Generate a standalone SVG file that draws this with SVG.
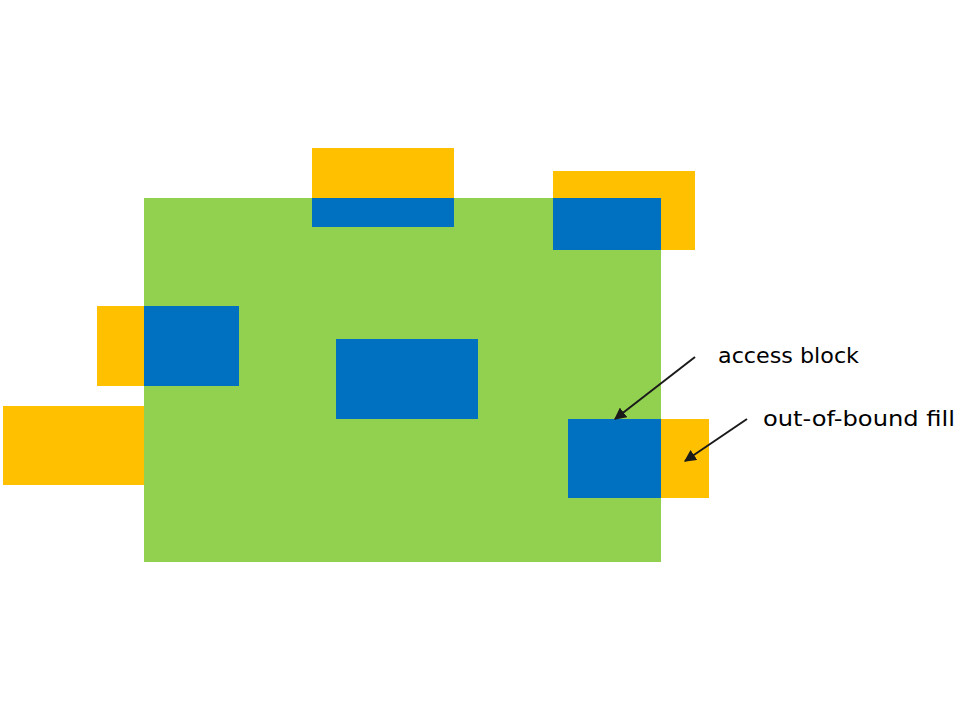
<svg xmlns="http://www.w3.org/2000/svg" width="978" height="720" viewBox="0 0 978 720">
  <style>
    .green { fill: #92D050; }
    .yellow { fill: #FFC000; }
    .blue { fill: #0070C0; }
    .conn { stroke: #1a1a1a; stroke-width: 2; fill: none; }
    .lbl { font-family: "DejaVu Sans", Verdana, sans-serif; font-size: 22px; fill: #000; }
  </style>
  <defs>
    <marker id="arrow" viewBox="0 0 10 10" refX="9" refY="5" markerWidth="6" markerHeight="6" orient="auto" markerUnits="strokeWidth">
      <path d="M0,0 L10,5 L0,10 z" fill="#1a1a1a"/>
    </marker>
  </defs>
  <rect width="978" height="720" fill="#ffffff"/>
  <g id="domain">
    <rect class="green" x="144" y="198" width="517" height="364"/>
  </g>
  <g id="block-top">
    <rect class="yellow" x="312" y="148" width="142" height="50"/>
    <rect class="blue" x="312" y="198" width="142" height="29"/>
  </g>
  <g id="block-top-right">
    <rect class="yellow" x="553" y="171" width="142" height="79"/>
    <rect class="blue" x="553" y="198" width="108" height="52"/>
  </g>
  <g id="block-left">
    <rect class="yellow" x="97" y="306" width="47" height="80"/>
    <rect class="blue" x="144" y="306" width="95" height="80"/>
  </g>
  <g id="block-center">
    <rect class="blue" x="336" y="339" width="142" height="80"/>
  </g>
  <g id="block-bottom-left">
    <rect class="yellow" x="3" y="406" width="141" height="79"/>
  </g>
  <g id="block-right">
    <rect class="blue" x="568" y="419" width="93" height="79"/>
    <rect class="yellow" x="661" y="419" width="48" height="79"/>
  </g>
  <g id="connectors">
    <line class="conn" x1="695" y1="357" x2="615" y2="419" marker-end="url(#arrow)"/>
    <line class="conn" x1="747" y1="419" x2="685" y2="461" marker-end="url(#arrow)"/>
  </g>
  <g id="labels">
    <text class="lbl" x="718" y="363" textLength="141" lengthAdjust="spacingAndGlyphs">access block</text>
    <text class="lbl" x="763" y="426" textLength="192" lengthAdjust="spacingAndGlyphs">out-of-bound fill</text>
  </g>
</svg>
